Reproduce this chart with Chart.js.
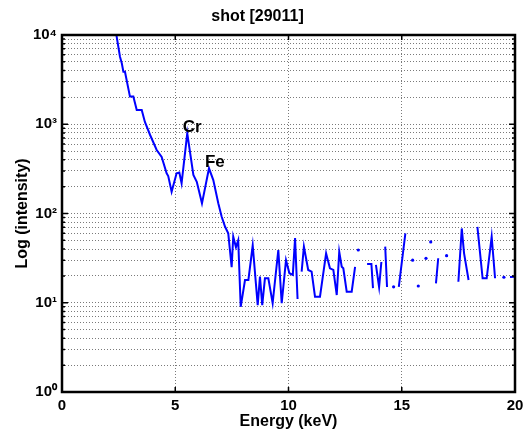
<!DOCTYPE html>
<html>
<head>
<meta charset="utf-8">
<script src="https://cdn.jsdelivr.net/npm/chart.js@4"></script>
<style>
  html, body { margin: 0; padding: 0; background: #fff; }
  canvas { display: block; }
</style>
</head>
<body>
<canvas id="spectrum" width="531" height="433"></canvas>
<script>
// Spectrum (energy in keV, intensity in counts), null = gap
const energy = [
  2.35, 2.56, 2.64, 2.71, 2.78, 3.00, 3.15, 3.30, 3.52, 3.66, 3.89, 4.18, 4.40, 4.62, 4.69, 4.84, 5.06, 5.18, 5.28,
  5.53, 5.80, 5.95, 6.18, 6.49, 6.68, 6.90, 7.05, 7.20, 7.34, 7.49, 7.56, 7.68, 7.78, 7.89,
  8.08, 8.23, 8.42, 8.64, 8.74, 8.84, 8.96, 9.11, 9.30, 9.55, 9.70, 9.89, 10.04, 10.19, 10.29, 10.40, 10.49,
  10.58, 10.68, 10.87, 11.02, 11.17, 11.39, 11.66, 11.83, 11.98, 12.13, 12.24, 12.35, 12.42, 12.57, 12.79, 12.94, 13.01, 13.08, 13.20,
  13.47, 13.66, 13.73, 13.80, 13.86, 14.00, 14.10, 14.18, 14.27, 14.35, 14.50, 14.64, 14.75, 14.87, 15.16, 15.30, 15.48, 15.60, 15.73, 15.90, 16.07, 16.18, 16.28, 16.40,
  16.51, 16.61, 16.80, 16.98, 17.20, 17.50, 17.65, 17.75, 17.95, 18.15, 18.34, 18.57, 18.75, 18.97, 19.12, 19.30, 19.51, 19.65, 19.78, 20.00
];
const intensity = [
  12000, 5710, 4820, 3880, 3880, 2040, 2040, 1445, 1445, 1060, 758, 515, 430, 282, 263, 175, 282, 288, 218,
  792, 270, 227, 130, 321, 237, 130, 92, 71, 60, 25, 55, 42, 50, 9,
  18, 18, 44, 9.4, 19.6, 9.4, 18.8, 18.8, 9.9, 39, 9.9, 30, 21.4, 20.5, 53, 11, null,
  22.3, 42.5, 23.3, 22.3, 11.7, 11.7, 35.8, 24.3, 23.3, 12.2, 37.3, 25.3, 24.3, 13.3, 13.3, 25.3, null, 39, null,
  27.2, 27.2, 14.6, null, 26.5, 15, 28.6, null, 42.5, 15, null, 15.1, null, 15.1, 60, null, 30, null, 15.4, null, 31.5, null, 48, null,
  16.5, 31.5, null, 33.7, null, 17.2, 68, 36, 18, null, 71, 18.8, 18.8, 55, 18.8, null, 19.3, null, 19.4, 19.5
];

// Axes
const xTicks = [0, 5, 10, 15, 20];
const yDecades = [0, 1, 2, 3, 4];

// Peak annotations
const peakNames = ['Cr', 'Fe'];
const peakEnergy = [5.75, 6.75];
const peakIntensity = [930, 375];

const FONT = "'Liberation Sans', Arial, Helvetica, sans-serif";
const SUP = { 0: '\u2070', 1: '\u00B9', 2: '\u00B2', 3: '\u00B3', 4: '\u2074' };

// all log grid values: 1..9 x 10^n, plus the top decade
const yTickValues = [];
yDecades.forEach((d, i) => {
    if (i === yDecades.length - 1) { yTickValues.push(Math.pow(10, d)); return; }
    for (let m = 1; m <= 9; m++) yTickValues.push(m * Math.pow(10, d));
});
const isDecade = v => Math.abs(Math.log10(v) - Math.round(Math.log10(v))) < 1e-9;

const points = energy.map((e, i) => ({ x: e, y: intensity[i] }));
const isolated = i => intensity[i] !== null &&
    (i === 0 || intensity[i - 1] === null) &&
    (i === intensity.length - 1 || intensity[i + 1] === null);

// Box, inward tick marks, peak labels
const framePlugin = {
    id: 'frame',
    afterDatasetsDraw(chart) {
        const { ctx, chartArea: a, scales: { x, y } } = chart;
        ctx.save();
        ctx.strokeStyle = '#000';
        ctx.lineWidth = 1.5;
        ctx.beginPath();
        x.ticks.forEach(t => {
            const px = x.getPixelForValue(t.value);
            ctx.moveTo(px, a.bottom); ctx.lineTo(px, a.bottom - 5);
            ctx.moveTo(px, a.top); ctx.lineTo(px, a.top + 5);
        });
        y.ticks.forEach(t => {
            const py = y.getPixelForValue(t.value);
            const len = isDecade(t.value) ? 6 : 3;
            ctx.moveTo(a.left, py); ctx.lineTo(a.left + len, py);
            ctx.moveTo(a.right, py); ctx.lineTo(a.right - len, py);
        });
        ctx.stroke();

        ctx.lineWidth = 2.5;
        ctx.strokeRect(a.left, a.top, a.right - a.left, a.bottom - a.top);

        ctx.fillStyle = '#000';
        ctx.font = 'bold 17px ' + FONT;
        ctx.textAlign = 'center';
        ctx.textBaseline = 'middle';
        peakNames.forEach((name, i) => {
            ctx.fillText(name, x.getPixelForValue(peakEnergy[i]), y.getPixelForValue(peakIntensity[i]));
        });
        ctx.restore();
    }
};

new Chart(document.getElementById('spectrum'), {
    type: 'line',
    data: {
        datasets: [{
            data: points,
            borderColor: '#0000ff',
            backgroundColor: '#0000ff',
            borderWidth: 2,
            tension: 0,
            spanGaps: false,
            pointRadius: ctx => isolated(ctx.dataIndex) ? 1.6 : 0,
            pointBorderWidth: 0
        }]
    },
    options: {
        responsive: false,
        animation: false,
        events: [],
        layout: { padding: { top: 4, right: 16, bottom: 0, left: 0 } },
        plugins: {
            legend: { display: false },
            tooltip: { enabled: false },
            title: {
                display: true,
                text: 'shot [29011]',
                color: '#000',
                font: { family: FONT, size: 16, weight: 'bold' },
                padding: { top: 3.4, bottom: 8.4 }
            }
        },
        scales: {
            x: {
                type: 'linear',
                min: 0,
                max: 20,
                afterBuildTicks: s => { s.ticks = xTicks.map(v => ({ value: v })); },
                afterFit: s => { s.height = 41; },
                ticks: {
                    color: '#000',
                    padding: 5,
                    font: { family: FONT, size: 15, weight: 'bold' },
                    maxRotation: 0
                },
                grid: { color: '#7a7a7a', lineWidth: 1, drawTicks: false },
                border: { display: false, dash: [1, 2] },
                title: {
                    display: true,
                    text: 'Energy (keV)',
                    color: '#000',
                    font: { family: FONT, size: 16, weight: 'bold' },
                    padding: { top: 0, bottom: 1.5 }
                }
            },
            y: {
                type: 'logarithmic',
                min: 1,
                max: 10000,
                afterBuildTicks: s => { s.ticks = yTickValues.map(v => ({ value: v, major: isDecade(v) })); },
                afterFit: s => { s.width = 62; },
                ticks: {
                    autoSkip: false,
                    color: '#000',
                    padding: 5,
                    font: { family: FONT, size: 15, weight: 'bold' },
                    callback: v => isDecade(v) ? '10' + SUP[Math.round(Math.log10(v))] : ''
                },
                grid: { color: '#7a7a7a', lineWidth: 1, drawTicks: false },
                border: { display: false, dash: [1, 2] },
                title: {
                    display: true,
                    text: 'Log (intensity)',
                    color: '#000',
                    font: { family: FONT, size: 16, weight: 'bold' },
                    padding: { top: 13, bottom: 0 }
                }
            }
        }
    },
    plugins: [framePlugin]
});
</script>
</body>
</html>
